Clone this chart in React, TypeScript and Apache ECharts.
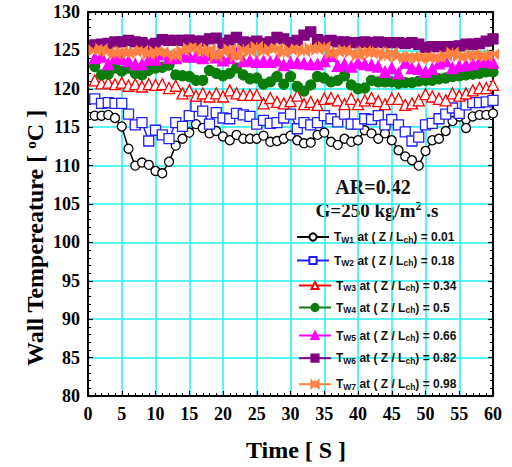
import React, { useEffect, useRef } from "react";
import * as echarts from "echarts";

const times: number[] = Array.from({ length: 60 }, (_, i) => i + 1);

const tw1 = [116.5,116.5,116.6,116.2,115.1,112.2,110.0,110.4,110.1,109.3,
  109.0,110.5,112.6,113.5,114.3,115.4,114.9,114.2,114.5,113.8,
  113.3,114.0,113.5,113.5,113.5,113.9,113.1,113.2,113.5,113.9,
  113.3,112.9,113.0,114.0,114.3,113.1,112.7,113.5,113.1,113.3,
  114.6,114.2,113.5,114.2,113.3,112.0,111.2,110.7,110.0,111.9,
  113.3,113.5,114.5,115.8,116.4,114.9,116.4,116.6,116.6,116.8];
const tw2 = [118.7,118.1,118.2,118.1,118.1,116.7,115.3,115.6,113.2,114.6,
  114.0,113.5,115.6,115.1,116.5,117.7,117.1,115.4,116.9,116.2,
  116.1,116.8,116.6,116.4,115.4,115.9,115.5,115.6,116.2,116.7,
  114.8,115.6,115.3,115.6,116.5,116.1,115.7,116.7,115.4,115.4,
  116.1,116.0,116.5,115.3,116.0,115.3,114.4,113.2,113.7,115.3,
  115.5,116.1,116.7,117.5,116.8,117.9,118.2,118.2,118.3,118.5];
const tw3 = [121.1,120.7,120.8,120.6,120.8,120.4,120.6,120.3,120.6,120.5,
  120.6,120.1,120.4,119.4,119.8,119.1,119.4,119.0,119.4,119.0,
  119.8,119.4,119.2,119.2,119.2,118.1,118.8,118.3,118.1,118.4,
  119.1,118.0,118.3,117.9,118.7,118.8,118.5,118.0,118.7,118.0,
  118.5,118.8,118.4,118.0,118.7,118.7,117.9,118.1,118.5,119.3,
  119.0,118.7,118.5,119.4,119.1,119.4,119.8,120.1,120.1,120.5];
const tw4 = [122.9,121.8,121.9,122.7,122.3,122.7,122.0,121.8,122.4,122.7,
  122.8,123.1,121.8,121.7,121.6,121.1,121.1,122.4,122.0,121.7,
  122.0,122.7,121.8,121.3,121.4,120.6,120.9,121.6,120.6,121.6,
  120.3,119.7,120.5,121.6,121.4,120.9,121.1,121.7,120.5,120.0,
  120.1,121.1,120.9,120.9,120.9,120.7,120.8,120.8,121.0,121.1,
  121.1,121.3,121.4,121.6,121.7,121.8,121.9,122.0,122.2,122.2];
const tw5 = [124.0,124.2,123.2,124.0,123.9,123.6,123.2,123.2,123.8,123.8,
  124.5,124.0,124.0,124.3,124.2,124.2,124.0,124.4,124.1,123.7,
  124.0,124.6,123.6,123.7,123.5,123.6,123.5,123.7,123.1,123.4,
  123.4,123.3,123.2,123.2,123.6,124.3,123.0,123.2,122.9,123.4,
  123.2,123.1,122.9,122.2,122.7,122.0,123.4,122.7,122.6,122.2,
  122.6,123.3,123.6,122.7,123.0,123.1,123.2,123.5,123.6,123.4];
const tw6 = [125.7,125.8,125.9,126.1,126.1,126.3,126.1,126.0,125.7,125.9,
  126.4,126.3,126.3,126.3,126.35,126.2,126.2,126.5,126.6,125.9,
  126.35,126.7,126.1,126.0,126.2,125.9,126.1,126.7,126.5,126.0,
  126.3,127.0,127.4,126.4,126.2,126.3,126.1,126.1,126.0,126.0,
  126.1,126.0,126.1,126.0,126.0,126.0,125.9,126.0,125.8,125.4,
  125.5,125.5,125.5,125.5,125.6,125.8,125.8,125.9,126.2,126.5];
const tw7 = [125.0,125.2,124.8,124.5,124.9,124.6,124.8,125.0,124.5,124.9,
  124.8,124.6,124.2,125.0,125.3,125.35,124.75,125.2,124.2,124.75,
  125.2,124.2,125.2,124.75,125.5,124.8,125.2,125.3,124.6,125.05,
  125.2,124.8,125.35,125.05,125.5,124.5,124.8,125.05,124.75,124.3,
  124.9,124.6,124.8,124.2,124.75,124.2,124.0,124.2,124.0,124.2,
  124.0,124.05,124.3,124.75,124.2,124.2,124.5,124.3,124.2,124.5];

const seriesNames = ["Tw1", "Tw2", "Tw3", "Tw4", "Tw5", "Tw6", "Tw7"];
const seriesSubs = ["W1", "W2", "W3", "W4", "W5", "W6", "W7"];
const seriesPos = ["0.01", "0.18", "0.34", "0.5", "0.66", "0.82", "0.98"];
const seriesValues = [tw1, tw2, tw3, tw4, tw5, tw6, tw7];

const xTicks = { min: 0, max: 60, interval: 5 };
const yTicks = { min: 80, max: 130, interval: 5 };

const bowtie = "path://M0,0L10,5L0,10Z M20,0L10,5L20,10Z M10,0L10,10";

const styles = [
  { color: "#000000", fill: "#ffffff", symbol: "circle", size: 9 },
  { color: "#1f1fff", fill: "#ffffff", symbol: "rect", size: 10 },
  { color: "#ff0000", fill: "#ffffff", symbol: "triangle", size: 11 },
  { color: "#0a7d0a", fill: "#0a7d0a", symbol: "circle", size: 10 },
  { color: "#ff00ff", fill: "#ff00ff", symbol: "triangle", size: 11 },
  { color: "#800080", fill: "#800080", symbol: "rect", size: 10 },
  { color: "#ff8040", fill: "#ff8040", symbol: bowtie, size: [11, 9] as any },
];

const legendRows = [235.5, 259, 284, 306, 334, 356.7, 382.7];
const legendLeft = [296, 296, 298, 298, 298, 298, 298];

export default function App() {
  const ref = useRef<HTMLDivElement>(null);
  useEffect(() => {
    if (!ref.current) return;
    const chart = echarts.init(ref.current, undefined, { renderer: "svg" });
    const tickLabel = {
      fontFamily: "Liberation Serif",
      fontWeight: "bold" as const,
      fontSize: 18,
      color: "#000",
    };
    const axisCommon = {
      type: "value" as const,
      axisLine: { show: true, onZero: false, lineStyle: { color: "#000", width: 2 } },
      axisTick: { show: true, inside: true, length: 5, lineStyle: { color: "#000", width: 1.2 } },
      minorTick: { show: true, splitNumber: 5, length: 3, lineStyle: { color: "#000", width: 1 } },
    };
    const series = seriesNames.map((name, i) => ({
      name,
      type: "line" as const,
      data: times.map((t, j) => [t, seriesValues[i][j]]),
      symbol: styles[i].symbol,
      symbolSize: styles[i].size,
      showAllSymbol: true,
      lineStyle: { color: styles[i].color, width: 1.5 },
      itemStyle: { color: styles[i].fill, borderColor: styles[i].color, borderWidth: 1.3 },
      xAxisIndex: 0,
      yAxisIndex: 0,
      z: 2 + i,
    }));
    const legends = seriesNames.map((name, i) => ({
      show: true,
      data: [name],
      left: legendLeft[i],
      top: legendRows[i] - 4.5,
      padding: 0,
      itemWidth: 32,
      itemHeight: 9,
      selectedMode: false,
      formatter: () => `T{sub|${seriesSubs[i]}} at ( Z / L{sub|ch}) = ${seriesPos[i]}`,
      textStyle: {
        fontFamily: "Liberation Sans",
        fontWeight: "bold" as const,
        fontSize: 12,
        color: "#111",
        rich: {
          sub: {
            fontFamily: "Liberation Sans",
            fontWeight: "bold" as const,
            fontSize: 8.5,
            color: "#111",
            verticalAlign: "bottom" as const,
            padding: [5, 0, 0, 0],
          },
        },
      },
    }));
    chart.setOption({
      animation: false,
      backgroundColor: "#ffffff",
      grid: { left: 88, right: 19, top: 12, bottom: 71, containLabel: false },
      xAxis: [
        {
          ...axisCommon,
          ...xTicks,
          position: "bottom",
          splitLine: { show: true, lineStyle: { color: "#1ff2f2", width: 1.5 } },
          axisLabel: { ...tickLabel, margin: 9 },
          name: "Time [ S ]",
          nameLocation: "middle",
          nameGap: 42,
          nameTextStyle: { fontFamily: "Liberation Serif", fontWeight: "bold", fontSize: 24, color: "#000", padding: [0, 0, 0, 11] },
        },
        {
          ...axisCommon,
          ...xTicks,
          position: "top",
          splitLine: { show: false },
          axisLabel: { show: false },
        },
      ],
      yAxis: [
        {
          ...axisCommon,
          ...yTicks,
          position: "left",
          splitLine: { show: true, lineStyle: { color: "#1ff2f2", width: 1.5 } },
          axisLabel: { ...tickLabel, margin: 8 },
        },
        {
          ...axisCommon,
          ...yTicks,
          position: "right",
          splitLine: { show: false },
          axisLabel: { show: false },
        },
      ],
      legend: legends,
      graphic: [
        {
          type: "text",
          x: 35,
          y: 238,
          rotation: Math.PI / 2,
          style: {
            text: "Wall Tempereature [ {sup|o}C ]",
            font: 'bold 24px "Liberation Serif"',
            fill: "#000",
            align: "center",
            verticalAlign: "middle",
            rich: {
              sup: { font: 'bold 15px "Liberation Serif"', fill: "#000", verticalAlign: "top", padding: [0, 0, 8, 0] },
            },
          },
        },
        {
          type: "text",
          x: 373,
          y: 187,
          style: {
            text: "AR=0.42",
            font: 'bold 20px "Liberation Serif"',
            fill: "#111",
            align: "center",
            verticalAlign: "middle",
          },
        },
        {
          type: "text",
          x: 377,
          y: 210,
          style: {
            text: "G=250 kg/m{sup|2} .s",
            font: 'bold 19px "Liberation Serif"',
            fill: "#111",
            align: "center",
            verticalAlign: "middle",
            rich: {
              sup: { font: 'bold 12px "Liberation Serif"', fill: "#111", verticalAlign: "top", padding: [0, 0, 8, 0] },
            },
          },
        },
      ],
      series,
    });
    return () => chart.dispose();
  }, []);
  return (
    <div
      ref={ref}
      style={{ position: "fixed", left: 0, top: 0, width: 512, height: 467, background: "#fff" }}
    />
  );
}
